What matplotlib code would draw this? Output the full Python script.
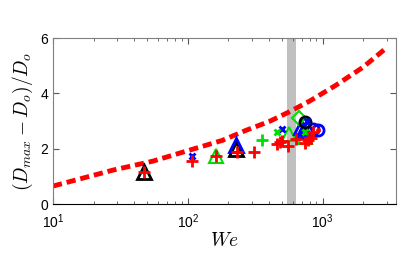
import math
import matplotlib
matplotlib.use("Agg")
import matplotlib.pyplot as plt
from matplotlib.ticker import FixedLocator, FuncFormatter

plt.rcParams['font.family'] = ['Liberation Sans', 'DejaVu Sans']
plt.rcParams['mathtext.fontset'] = 'cm'

# model curve
curve_we = [10, 28, 55, 100, 180, 272, 400, 570, 800, 1260, 2000, 2950]
curve_d = [0.65, 1.23, 1.55, 1.93, 2.30, 2.67, 2.98, 3.34, 3.72, 4.3, 4.95, 5.63]

# band
band_lo, band_hi = 540, 630

# markers
red_plus_we = [47.5, 108, 163, 232, 309, 455, 480, 500, 550, 635, 734, 780, 815, 850]
red_plus_d = [1.15, 1.55, 1.72, 1.87, 1.87, 2.16, 2.25, 2.29, 2.11, 2.34, 2.22, 2.31, 2.4, 2.6]
green_plus_we = [357]
green_plus_d = [2.31]
green_x_we = [461, 740]
green_x_d = [2.59, 2.62]
blue_x_we = [108, 500, 770]
blue_x_d = [1.73, 2.73, 3.0]
green_tri_we = [163, 565, 734]
green_tri_d = [1.75, 2.52, 2.43]
blue_tri_we = [227, 695, 720, 760]
blue_tri_d = [2.13, 2.8, 2.65, 2.75]
black_tri_we = [47.5, 227]
black_tri_d = [1.15, 1.98]
green_dia_we = [667]
green_dia_d = [3.1]
black_circ_we = [734]
black_circ_d = [2.98]
blue_circ_we = [920, 850]
blue_circ_d = [2.67, 2.72]
red_dot_we = [920]
red_dot_d = [2.67]

fig = plt.figure(figsize=(4.15, 2.64), dpi=100)
ax = fig.add_axes([0.1277, 0.227, 0.8265, 0.629])

ax.axvspan(band_lo, band_hi, color='#c0c0c0', lw=0, zorder=1)
ax.plot(curve_we, curve_d, color='red', lw=3.5, dashes=(1.9, 1.0), zorder=2)

ax.plot(black_tri_we, black_tri_d, '^', ms=10, mfc='none', mec='black', mew=2, zorder=3)
ax.plot(green_tri_we, green_tri_d, '^', ms=10, mfc='none', mec='#00dd00', mew=1.5, zorder=3)
ax.plot(blue_tri_we, blue_tri_d, '^', ms=10, mfc='none', mec='blue', mew=2, zorder=3)
ax.plot(green_dia_we, green_dia_d, 'D', ms=7, mfc='none', mec='#00dd00', mew=1.5, zorder=3)
ax.plot(blue_circ_we, blue_circ_d, 'o', ms=8, mfc='none', mec='blue', mew=2, zorder=3)
ax.plot(red_dot_we, red_dot_d, '.', ms=5, color='red', zorder=3)
ax.plot(black_circ_we, black_circ_d, 'o', ms=8, mfc='none', mec='black', mew=2, zorder=4)
ax.plot(blue_x_we, blue_x_d, 'x', ms=5, mec='blue', mew=2, zorder=4)
ax.plot(green_x_we, green_x_d, 'x', ms=5, mec='#00dd00', mew=2, zorder=4)
ax.plot(green_plus_we, green_plus_d, '+', ms=8, mec='#00dd00', mew=2, zorder=4)
ax.plot(red_plus_we, red_plus_d, '+', ms=8, mec='red', mew=2, zorder=5)

ax.set_xscale('log')
ax.set_xlim(10, 3500)
ax.set_ylim(0, 6)
ax.yaxis.set_major_locator(FixedLocator([0, 2, 4, 6]))
ax.xaxis.set_major_formatter(FuncFormatter(lambda v, p: r'$\mathregular{10^{%d}}$' % round(math.log10(v))))
ax.tick_params(which='both', direction='in', top=True, right=True, labelsize=10, color='#555555')
ax.tick_params(which='major', length=4)
ax.tick_params(which='minor', length=2)
ax.tick_params(axis='x', pad=6)
for s in ['top', 'right', 'left']:
    ax.spines[s].set_color('#808080')
ax.spines['bottom'].set_color('black')

ax.set_xlabel(r'$We$', fontsize=14, labelpad=1)
ax.set_ylabel(r'$(D_{max}-D_o)/D_o$', fontsize=14, labelpad=4)

fig.savefig('out.png', dpi=100)
